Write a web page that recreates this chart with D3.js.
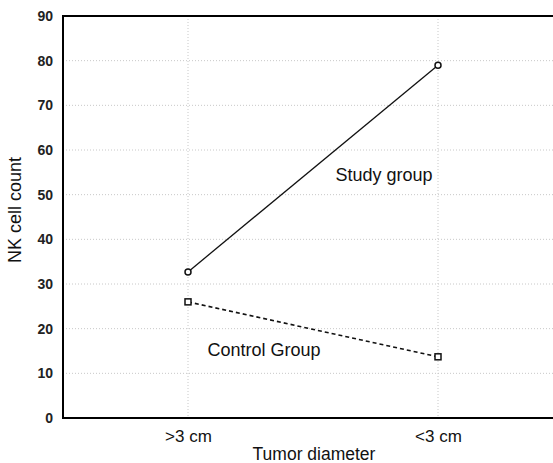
<!DOCTYPE html>
<html><head><meta charset="utf-8">
<script src="https://cdn.jsdelivr.net/npm/d3@7"></script>
<style>body{margin:0;background:#fff}svg{display:block}text{font-family:"Liberation Sans",Arial,sans-serif}</style>
</head><body>
<svg id="c" width="553" height="463"></svg>
<script>
const categories = [">3 cm", "<3 cm"];
const studyValues = [32.7, 79.0];
const controlValues = [26.0, 13.7];
const yTicks = [0, 10, 20, 30, 40, 50, 60, 70, 80, 90];

const svg = d3.select("#c");
const L = 63, T = 16, R = 563, B = 418;
const x = d3.scalePoint().domain(categories).range([L, R]).padding(0.5);
const y = d3.scaleLinear().domain([0, 90]).range([B, T]);

// grid
const g = svg.append("g");
g.selectAll("line.h").data(yTicks.filter(d => d > 0 && d < 90)).join("line")
  .attr("x1", L).attr("x2", R).attr("y1", d => y(d)).attr("y2", d => y(d))
  .attr("stroke", "#c8c8c8").attr("stroke-width", 1).attr("stroke-dasharray", "1,2");
g.selectAll("line.v").data(categories).join("line")
  .attr("x1", d => x(d)).attr("x2", d => x(d)).attr("y1", T).attr("y2", B)
  .attr("stroke", "#c8c8c8").attr("stroke-width", 1).attr("stroke-dasharray", "1,2");

// frame
svg.append("rect").attr("x", L).attr("y", T).attr("width", R - L).attr("height", B - T)
  .attr("fill", "none").attr("stroke", "#000").attr("stroke-width", 2);

// axes
const yAxis = svg.append("g").attr("transform", `translate(${L},0)`)
  .call(d3.axisLeft(y).tickValues(yTicks).tickSize(0).tickPadding(10));
yAxis.select(".domain").remove();
yAxis.selectAll("text").attr("font-size", 14).attr("font-weight", "bold").attr("fill", "#222");

const xAxis = svg.append("g").attr("transform", `translate(0,${B})`)
  .call(d3.axisBottom(x).tickSize(0).tickPadding(12));
xAxis.select(".domain").remove();
xAxis.selectAll("text").attr("font-size", 17).attr("fill", "#111");

// lines
const line = d3.line().x((d, i) => x(categories[i])).y(d => y(d));
svg.append("path").datum(studyValues).attr("d", line).attr("fill", "none")
  .attr("stroke", "#111").attr("stroke-width", 1.3);
svg.append("path").datum(controlValues).attr("d", line).attr("fill", "none")
  .attr("stroke", "#111").attr("stroke-width", 1.6).attr("stroke-dasharray", "4,3");

// markers
svg.selectAll("circle.s").data(studyValues).join("circle")
  .attr("cx", (d, i) => x(categories[i])).attr("cy", d => y(d)).attr("r", 3)
  .attr("fill", "#fff").attr("stroke", "#111").attr("stroke-width", 1.5);
svg.selectAll("rect.c").data(controlValues).join("rect")
  .attr("x", (d, i) => x(categories[i]) - 3).attr("y", d => y(d) - 3)
  .attr("width", 6).attr("height", 6)
  .attr("fill", "#fff").attr("stroke", "#111").attr("stroke-width", 1.5);

// labels
svg.append("text").attr("x", 384).attr("y", 181).attr("text-anchor", "middle")
  .attr("font-size", 18).attr("fill", "#111").text("Study group");
svg.append("text").attr("x", 264).attr("y", 356).attr("text-anchor", "middle")
  .attr("font-size", 18).attr("fill", "#111").text("Control Group");

svg.append("text").attr("transform", `translate(21,210) rotate(-90)`)
  .attr("text-anchor", "middle").attr("font-size", 18).attr("fill", "#111").text("NK cell count");
svg.append("text").attr("x", 314).attr("y", 460).attr("text-anchor", "middle")
  .attr("font-size", 17.5).attr("fill", "#111").text("Tumor diameter");
</script>
</body></html>
